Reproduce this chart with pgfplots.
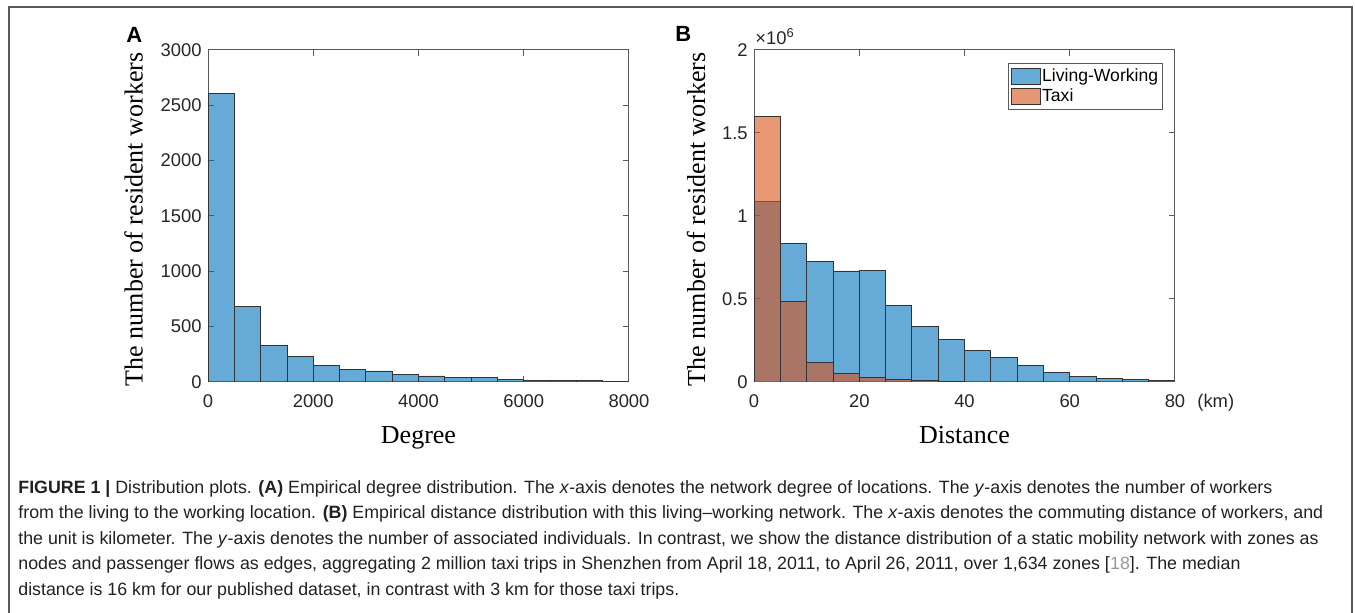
\documentclass[border=0pt]{standalone}
\usepackage{fontspec}
\setmainfont{Liberation Sans}
\newfontfamily\tnr{Liberation Serif}
\usepackage{pgfplots}
\pgfplotsset{compat=1.18}

\definecolor{MatBlue}{rgb}{0,0.447,0.741}
\definecolor{MatOrange}{rgb}{0.85,0.325,0.098}
\definecolor{axgray}{gray}{0.35}
\definecolor{captext}{rgb}{0.14,0.12,0.13}
\definecolor{refgray}{rgb}{0.58,0.60,0.63}

\pgfplotsset{
  matlab/.style={
    scale only axis, width=210.5bp, height=166bp, anchor=south west,
    axis line style={draw=axgray, line width=0.5bp},
    tick style={draw=axgray, line width=0.5bp},
    tick align=inside, major tick length=3bp,
    tick label style={font=\fontsize{9.2bp}{11bp}\selectfont, text=black!85},
    every x tick label/.append style={anchor=base, yshift=-13bp},
    every y tick label/.append style={inner sep=3bp},
    /pgf/number format/assume math mode=true,
    /pgf/number format/1000 sep={},
    scaled ticks=false,
    xmin=0, ymin=0,
  },
  bars/.style={ybar interval, draw=black!80, line width=0.4bp, fill opacity=0.6},
}

\begin{document}
\begin{tikzpicture}
\useasboundingbox (0bp,0bp) rectangle (677.5bp,306.5bp);
\draw[black!65, line width=0.7bp] (4.5bp,-1bp) -- (4.5bp,303bp) -- (676bp,303bp) -- (676bp,-1bp);

% panel A: degree
\begin{axis}[matlab, at={(104bp,115.5bp)},
    xmax=8000, ymax=3000,
    xtick={0,2000,4000,6000,8000},
    ytick={0,500,1000,1500,2000,2500,3000},
    xlabel={Degree}, ylabel={The number of resident workers},
    every axis x label/.style={at={(axis description cs:0.5,-0.184)}, anchor=base,
      font=\tnr\fontsize{13bp}{15bp}\selectfont},
    every axis y label/.style={at={(axis description cs:-0.155,0.49)}, rotate=90, anchor=base,
      font=\tnr\fontsize{13bp}{15bp}\selectfont},
]
\addplot[bars, fill=MatBlue] coordinates {
  (0,2610) (500,680) (1000,330) (1500,227) (2000,152) (2500,112)
  (3000,100) (3500,67) (4000,55) (4500,45) (5000,40) (5500,24)
  (6000,18) (6500,15) (7000,10) (7500,8) (8000,8)
};
\end{axis}

% panel B: distance
\begin{axis}[matlab, at={(377bp,115.5bp)},
    xmax=80, ymax=2,
    xtick={0,20,40,60,80},
    ytick={0,0.5,1,1.5,2},
    yticklabels={0,0.5,1,1.5,2},
    xlabel={Distance}, ylabel={The number of resident workers},
    every axis x label/.style={at={(axis description cs:0.5,-0.184)}, anchor=base,
      font=\tnr\fontsize{13bp}{15bp}\selectfont},
    every axis y label/.style={at={(axis description cs:-0.116,0.49)}, rotate=90, anchor=base,
      font=\tnr\fontsize{13bp}{15bp}\selectfont},
    legend style={at={(0.9715,0.9608)}, anchor=north east, draw=axgray,
      line width=0.4bp, fill=white, inner xsep=1.5bp, inner ysep=1.5bp,
      font=\fontsize{8.8bp}{10bp}\selectfont,
      nodes={inner sep=0.7bp, text height=6.8bp, text depth=1.9bp}},
    legend cell align=left,
]
\addplot[bars, fill=MatBlue, forget plot] coordinates {
  (0,1.085) (5,0.837) (10,0.725) (15,0.669) (20,0.671) (25,0.462)
  (30,0.332) (35,0.254) (40,0.190) (45,0.146) (50,0.102) (55,0.058)
  (60,0.036) (65,0.020) (70,0.018) (75,0.010) (80,0.010)
};
\addplot[bars, fill=MatOrange, forget plot] coordinates {
  (0,1.600) (5,0.484) (10,0.120) (15,0.054) (20,0.026) (25,0.014)
  (30,0.008) (35,0.002) (40,0.002)
};
\addlegendimage{legend image code/.code={\draw[fill=MatBlue, fill opacity=0.6, draw=black!80, line width=0.4bp] (0bp,-4bp) rectangle (14.5bp,4bp);}}
\addlegendentry{Living-Working}
\addlegendimage{legend image code/.code={\draw[fill=MatOrange, fill opacity=0.6, draw=black!80, line width=0.4bp] (0bp,-4bp) rectangle (14.5bp,4bp);}}
\addlegendentry{Taxi}
\end{axis}

% panel letters and axis notes
\node[anchor=base west, inner sep=0, font=\bfseries\fontsize{11bp}{13bp}\selectfont] at (63bp,285bp) {A};
\node[anchor=base west, inner sep=0, font=\bfseries\fontsize{11bp}{13bp}\selectfont] at (337.5bp,285.5bp) {B};
\node[anchor=base west, inner sep=0, font=\fontsize{9.2bp}{11bp}\selectfont, text=black!85] at (377.5bp,284bp) {×10\textsuperscript{6}};
\node[anchor=base west, inner sep=0, font=\fontsize{9.2bp}{11bp}\selectfont, text=black!85] at (598.5bp,102.5bp) {(km)};

% caption
\node[anchor=north west, inner sep=0, align=left, text=captext,
      font=\fontsize{8.9bp}{12.75bp}\selectfont] at (9bp,66.5bp) {%
\textbf{FIGURE 1 |} Distribution plots. \textbf{(A)} Empirical degree distribution. The \textit{x}-axis denotes the network degree of locations. The \textit{y}-axis denotes the number of workers\\
from the living to the working location. \textbf{(B)} Empirical distance distribution with this living–working network. The \textit{x}-axis denotes the commuting distance of workers, and\\
the unit is kilometer. The \textit{y}-axis denotes the number of associated individuals. In contrast, we show the distance distribution of a static mobility network with zones as\\
nodes and passenger flows as edges, aggregating 2 million taxi trips in Shenzhen from April 18, 2011, to April 26, 2011, over 1,634 zones [{\color{refgray}18}]. The median\\
distance is 16 km for our published dataset, in contrast with 3 km for those taxi trips.};
\end{tikzpicture}
\end{document}
